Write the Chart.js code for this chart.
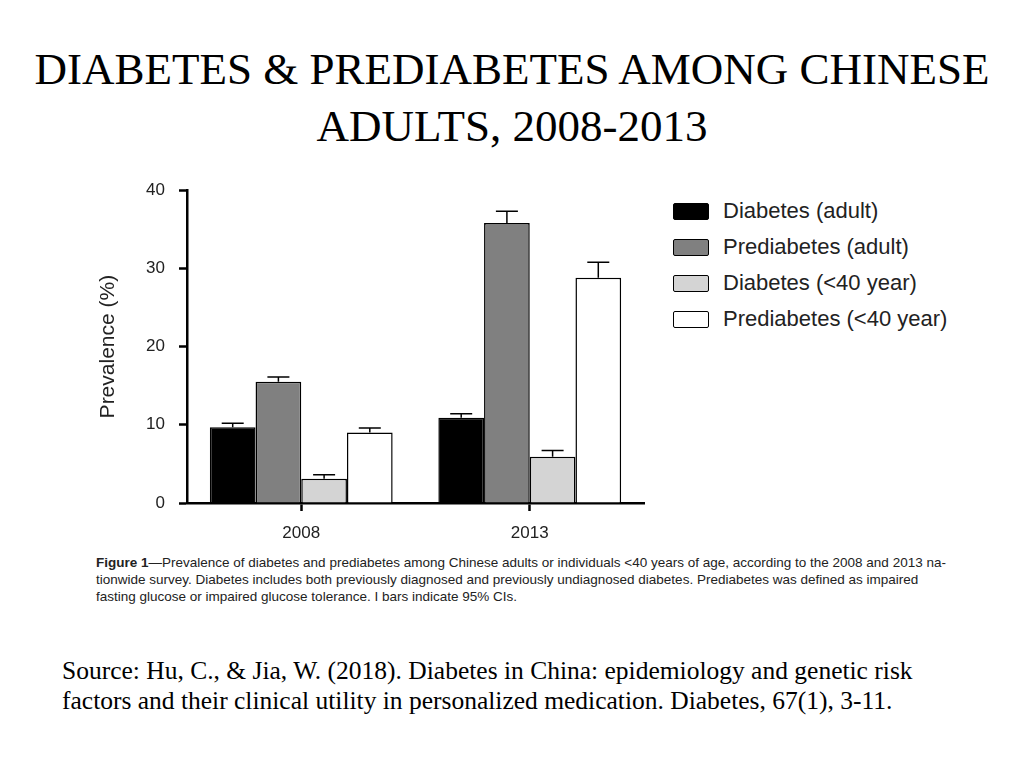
<!DOCTYPE html>
<html>
<head>
<meta charset="utf-8">
<script src="https://cdn.jsdelivr.net/npm/chart.js@4"></script>
<style>
  html, body { margin: 0; padding: 0; background: #fff; }
  body { width: 1024px; height: 768px; position: relative; overflow: hidden; }
  #title {
    position: absolute; left: 0; top: 41px; width: 1024px; text-align: center;
    font-family: "Liberation Serif", "Times New Roman", serif; font-size: 45px; line-height: 57px; color: #000;
  }
  #chartBox { position: absolute; left: 80px; top: 166px; width: 570px; height: 384px; }
  #legend {
    position: absolute; left: 673px; top: 193px;
    font-family: "Liberation Sans", Arial, sans-serif; font-size: 22px; color: #222;
  }
  .leg-item { display: flex; align-items: center; height: 36px; }
  .leg-box { width: 34px; height: 15px; border: 1.5px solid #000; border-radius: 2px; margin-right: 14px; }
  #caption {
    position: absolute; left: 96px; top: 554px; white-space: nowrap;
    font-family: "Liberation Sans Narrow", "Arial Narrow", "Liberation Sans", sans-serif; font-size: 13.5px; line-height: 17px; color: #222;
  }
  #source {
    position: absolute; left: 62px; top: 656px; white-space: nowrap;
    font-family: "Liberation Serif", "Times New Roman", serif; font-size: 25.5px; line-height: 30px; color: #000;
  }
</style>
</head>
<body>
<div id="title">DIABETES &amp; PREDIABETES AMONG CHINESE<br>ADULTS, 2008-2013</div>
<div id="chartBox"><canvas id="chart"></canvas></div>
<div id="legend"></div>
<div id="caption"><b>Figure 1</b>—Prevalence of diabetes and prediabetes among Chinese adults or individuals &lt;40 years of age, according to the 2008 and 2013 na-<br>tionwide survey. Diabetes includes both previously diagnosed and previously undiagnosed diabetes. Prediabetes was defined as impaired<br>fasting glucose or impaired glucose tolerance. I bars indicate 95% CIs.</div>
<div id="source">Source: Hu, C., &amp; Jia, W. (2018). Diabetes in China: epidemiology and genetic risk<br>factors and their clinical utility in personalized medication. Diabetes, 67(1), 3-11.</div>

<script>
/* data */
const YEARS = ["2008", "2013"];
const SERIES_NAMES = ["Diabetes (adult)", "Prediabetes (adult)", "Diabetes (<40 year)", "Prediabetes (<40 year)"];
const SERIES_COLORS = ["#000000", "#808080", "#d4d4d4", "#ffffff"];

const diabetesAdult = [9.7, 10.9];
const prediabetesAdult = [15.5, 35.8];
const diabetesYoung = [3.1, 5.9];
const prediabetesYoung = [9.0, 28.8];

// upper end of the 95% CI bars
const diabetesAdultHi = [10.2, 11.4];
const prediabetesAdultHi = [16.1, 37.3];
const diabetesYoungHi = [3.6, 6.7];
const prediabetesYoungHi = [9.6, 30.8];

const Y_TICKS = [0, 10, 20, 30, 40];

const values = [diabetesAdult, prediabetesAdult, diabetesYoung, prediabetesYoung];
const upper = [diabetesAdultHi, prediabetesAdultHi, diabetesYoungHi, prediabetesYoungHi];

/* ---------- error bars (upper whisker only) ---------- */
const errorBars = {
  id: "errorBars",
  afterDatasetsDraw(chart) {
    const ctx = chart.ctx;
    const y = chart.scales.y;
    ctx.save();
    ctx.strokeStyle = "#000";
    ctx.lineWidth = 1.5;
    chart.data.datasets.forEach((ds, i) => {
      const meta = chart.getDatasetMeta(i);
      meta.data.forEach((bar, j) => {
        const hi = y.getPixelForValue(ds.upper[j]);
        ctx.beginPath();
        ctx.moveTo(bar.x, bar.y);
        ctx.lineTo(bar.x, hi);
        ctx.moveTo(bar.x - 11, hi);
        ctx.lineTo(bar.x + 11, hi);
        ctx.stroke();
      });
    });
    ctx.restore();
  },
};

/* ---------- chart ---------- */
const datasets = SERIES_NAMES.map((name, i) => ({
  label: name,
  data: values[i],
  upper: upper[i],
  backgroundColor: SERIES_COLORS[i],
  borderColor: "#000",
  borderWidth: 1.5,
  borderSkipped: "bottom",
  barPercentage: 1,
  categoryPercentage: 0.8,
}));

const FONT = "'Liberation Sans', Arial, sans-serif";

new Chart(document.getElementById("chart"), {
  type: "bar",
  data: { labels: YEARS, datasets },
  options: {
    responsive: true, maintainAspectRatio: false, animation: false,
    layout: { padding: { top: 10, right: 6, left: 0, bottom: 0 } },
    plugins: { legend: { display: false }, tooltip: { enabled: false } },
    scales: {
      x: {
        offset: true,
        grid: { display: true, offset: false, drawOnChartArea: false, drawTicks: true,
                tickLength: 8, tickColor: "#000", tickWidth: 2.5 },
        border: { display: true, color: "#000", width: 2.5 },
        ticks: { color: "#222", font: { family: FONT, size: 17 }, padding: 12 },
        afterFit(s) { s.height = 47; },
      },
      y: {
        min: 0, max: 40,
        afterBuildTicks(s) { s.ticks = Y_TICKS.map((v) => ({ value: v })); },
        grid: { display: true, drawOnChartArea: false, drawTicks: true,
                tickLength: 8, tickColor: "#000", tickWidth: 2.5 },
        border: { display: true, color: "#000", width: 2.5 },
        ticks: { color: "#222", font: { family: FONT, size: 17 }, padding: 14 },
        title: { display: true, text: "Prevalence (%)", color: "#222",
                 font: { family: FONT, size: 21 }, padding: { top: 16 } },
        afterFit(s) { s.width = 107; },
      },
    },
  },
  plugins: [errorBars],
});

/* ---------- legend ---------- */
const legendEl = document.getElementById("legend");
SERIES_NAMES.forEach((name, i) => {
  const item = document.createElement("div");
  item.className = "leg-item";
  item.innerHTML = `<span class="leg-box" style="background:${SERIES_COLORS[i]}"></span><span></span>`;
  item.lastChild.textContent = name;
  legendEl.appendChild(item);
});
</script>
</body>
</html>
